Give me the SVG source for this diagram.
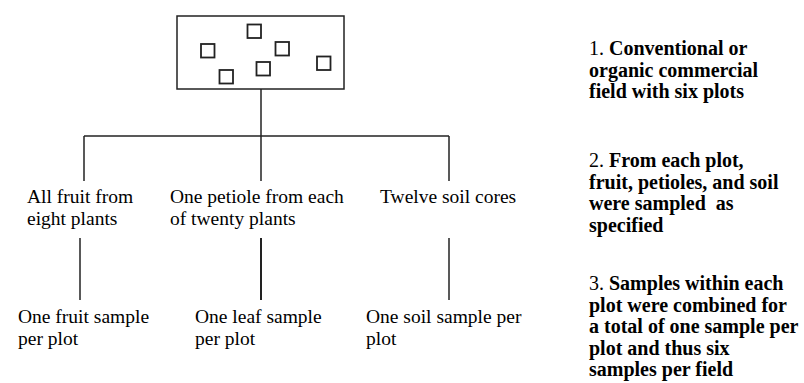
<svg xmlns="http://www.w3.org/2000/svg" width="804" height="383" viewBox="0 0 804 383">
<style>
text{font-family:"Liberation Serif","Tinos","Times New Roman","DejaVu Serif",serif;font-size:19.5px;fill:#000}
.r text{font-size:20px;font-weight:bold}
.n{font-weight:normal}
.ln{stroke:#222;stroke-width:1.5;fill:none}
.sq{fill:#fff;stroke:#222;stroke-width:1.8}
</style>
<rect width="804" height="383" fill="#fff"/>
<g id="field">
<rect x="177" y="16" width="167" height="73" class="ln"/>
<rect class="sq" x="201" y="44" width="13.5" height="13.5"/>
<rect class="sq" x="247.5" y="24.5" width="13.5" height="13.5"/>
<rect class="sq" x="275.5" y="42" width="13.5" height="13.5"/>
<rect class="sq" x="219.5" y="70" width="13.5" height="13.5"/>
<rect class="sq" x="256.5" y="62" width="13.5" height="13.5"/>
<rect class="sq" x="317" y="56.5" width="13.5" height="13.5"/>
</g>
<g id="connectors">
<line class="ln" x1="261" y1="89" x2="261" y2="136"/>
<line class="ln" x1="84" y1="136" x2="449" y2="136"/>
<line class="ln" x1="84" y1="136" x2="84" y2="181"/>
<line class="ln" x1="261" y1="136" x2="261" y2="181"/>
<line class="ln" x1="449" y1="136" x2="449" y2="181"/>
<line class="ln" x1="80" y1="238" x2="80" y2="300"/>
<line class="ln" x1="261" y1="238" x2="261" y2="300" style="stroke-width:2"/>
<line class="ln" x1="449" y1="238" x2="449" y2="300"/>
</g>
<g id="fruit">
<text x="27" y="202.5">All fruit from</text>
<text x="27" y="224.5">eight plants</text>
</g>
<g id="petiole">
<text x="170" y="202.5">One petiole from each</text>
<text x="170" y="224.5">of twenty plants</text>
</g>
<g id="soil">
<text x="380" y="202.5">Twelve soil cores</text>
</g>
<g id="fruit-sample">
<text x="18" y="323">One fruit sample</text>
<text x="18" y="345">per plot</text>
</g>
<g id="leaf-sample">
<text x="195" y="323">One leaf sample</text>
<text x="195" y="345">per plot</text>
</g>
<g id="soil-sample">
<text x="366" y="323">One soil sample per</text>
<text x="366" y="345">plot</text>
</g>
<g id="note1" class="r">
<text x="589" y="55"><tspan class="n">1. </tspan>Conventional or</text>
<text x="589" y="76.5">organic commercial</text>
<text x="589" y="98">field with six plots</text>
</g>
<g id="note2" class="r">
<text x="589" y="167"><tspan class="n">2. </tspan>From each plot,</text>
<text x="589" y="188.5">fruit, petioles, and soil</text>
<text x="589" y="210" xml:space="preserve">were sampled  as</text>
<text x="589" y="231.5">specified</text>
</g>
<g id="note3" class="r">
<text x="589" y="290"><tspan class="n">3. </tspan>Samples within each</text>
<text x="589" y="311.5">plot were combined for</text>
<text x="589" y="333">a total of one sample per</text>
<text x="589" y="354.5">plot and thus six</text>
<text x="589" y="376">samples per field</text>
</g>
</svg>
